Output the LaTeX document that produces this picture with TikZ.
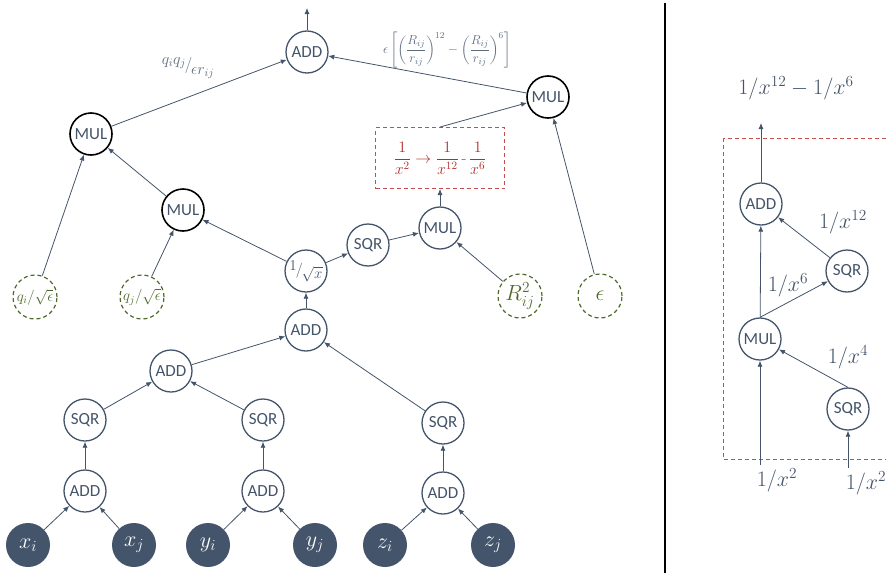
\RequirePackage{fix-cm}
\documentclass[tikz,border=0pt]{standalone}
\usepackage{amsmath}
\usepackage{fontspec}
\setsansfont{Carlito}
\usetikzlibrary{arrows.meta}
\definecolor{slate}{HTML}{44546A}
\definecolor{moss}{HTML}{4F6B2C}
\definecolor{brick}{HTML}{C0504D}
\definecolor{brickdark}{HTML}{B0302C}

\begin{document}
\begin{tikzpicture}[x=1pt,y=-1pt]
		\tikzstyle {op} = [circle, draw=slate, line width=1.3pt, minimum size=42pt, inner sep=0pt, text=slate, font=\sffamily\fontsize{17}{17}\selectfont]
		\tikzstyle {op bold} = [op, draw=black, line width=1.6pt]
		\tikzstyle {leaf} = [circle, draw=moss, dash pattern=on 4pt off 3pt, line width=1.2pt, minimum size=44pt, inner sep=0pt, text=moss]
		\tikzstyle {var} = [circle, fill=slate, minimum size=44pt, inner sep=0pt, text=white, font=\fontsize{22}{22}\selectfont]
		\tikzstyle {edge} = [-{Latex[length=6pt,width=5pt]}, slate, line width=0.8pt]
		\tikzstyle {note} = [text=slate, font=\fontsize{22}{22}\selectfont]
		\tikzstyle {rulebox} = [draw=brick, dash pattern=on 4pt off 3pt, line width=1pt, minimum width=129pt, minimum height=61pt, inner sep=0pt]

		\useasboundingbox (0,0) rectangle (886,573);
		\clip (0,0) rectangle (886,573);

		% left: the full graph
		\node[op] (top) at (307,52) {ADD};
		\coordinate (out) at (307,8);
		\node[op bold] (mulL) at (91,134) {MUL};
		\node[op bold] (mulM) at (183,210) {MUL};
		\node[op bold] (mulR) at (548,97) {MUL};
		\node[op, font=\fontsize{15}{15}\selectfont] (rsq) at (306,271) {\raisebox{4pt}{$1$}\kern-1pt/\kern-1pt\raisebox{-4pt}{$\sqrt{x}$}};
		\node[op] (sqrM) at (368,245) {SQR};
		\node[op] (mulC) at (440,228) {MUL};
		\node[rulebox] (redbox) at (440,158) {};

		\node[leaf, font=\fontsize{15}{15}\selectfont] (qi) at (35,297) {$q_i/\sqrt{\epsilon}$};
		\node[leaf, font=\fontsize{15}{15}\selectfont] (qj) at (142,297) {$q_j/\sqrt{\epsilon}$};
		\node[leaf, font=\fontsize{22}{22}\selectfont] (rij) at (520,296) {$R_{ij}^2$};
		\node[leaf, font=\fontsize{22}{22}\selectfont] (eps) at (600,296) {$\epsilon$};

		\node[op] (addC) at (306,330) {ADD};
		\node[op] (addL) at (171,371) {ADD};
		\node[op] (sqrX) at (85,420) {SQR};
		\node[op] (sqrY) at (263,420) {SQR};
		\node[op] (sqrZ) at (443,423) {SQR};
		\node[op] (addX) at (85,491) {ADD};
		\node[op] (addY) at (263,491) {ADD};
		\node[op] (addZ) at (443,493) {ADD};

		\node[var] (xi) at (28,545) {$x_i$};
		\node[var] (xj) at (134,545) {$x_j$};
		\node[var] (yi) at (208,545) {$y_i$};
		\node[var] (yj) at (315,545) {$y_j$};
		\node[var] (zi) at (385,545) {$z_i$};
		\node[var] (zj) at (493,545) {$z_j$};

		\node[text=slate!85, font=\fontsize{16}{16}\selectfont] (coul) at (188,68) {\raisebox{5pt}{$q_iq_j$}\kern-1pt/\kern-1pt\raisebox{-5pt}{$\epsilon r_{ij}$}};

		\draw[edge] (top) -- (out);
		\draw[edge] (mulL) -- (top);
		\draw[edge] (mulR) -- (top);
		\draw[edge] (qi) -- (mulL);
		\draw[edge] (mulM) -- (mulL);
		\draw[edge] (qj) -- (mulM);
		\draw[edge] (rsq) -- (mulM);
		\draw[edge] (rsq) -- (sqrM);
		\draw[edge] (sqrM) -- (mulC);
		\draw[edge] (rij) -- (mulC);
		\draw[edge] (mulC) -- (redbox.south -| mulC);
		\draw[edge] (redbox.north) -- (mulR);
		\draw[edge] (eps) -- (mulR);
		\draw[edge] (addC) -- (rsq);
		\draw[edge] (addL) -- (addC);
		\draw[edge] (sqrZ) -- (addC);
		\draw[edge] (sqrX) -- (addL);
		\draw[edge] (sqrY) -- (addL);
		\draw[edge] (addX) -- (sqrX);
		\draw[edge] (addY) -- (sqrY);
		\draw[edge] (addZ) -- (sqrZ);
		\draw[edge] (xi) -- (addX);
		\draw[edge] (xj) -- (addX);
		\draw[edge] (yi) -- (addY);
		\draw[edge] (yj) -- (addY);
		\draw[edge] (zi) -- (addZ);
		\draw[edge] (zj) -- (addZ);

		% right: the rewritten sub-graph
		\draw[black, line width=1.2pt] (665,3) -- (665,573);
		\draw[brick, dash pattern=on 4pt off 3pt, line width=1pt] (723,138) rectangle (900,459);

		\node[note] (res) at (796,88) {$1/x^{12}-1/x^6$};
		\coordinate (resin) at (761,123);
		\node[op] (addR) at (761,204) {ADD};
		\node[op] (sqrU) at (847,271) {SQR};
		\node[op] (mulP) at (760,339) {MUL};
		\node[op] (sqrD) at (848,409) {SQR};
		\node[note] (inA) at (777,480) {$1/x^2$};
		\node[note] (inB) at (866,483) {$1/x^2$};
		\node[note] (l12) at (843,222) {$1/x^{12}$};
		\node[note] (l6) at (788,285) {$1/x^{6}$};
		\node[note] (l4) at (848,357) {$1/x^{4}$};

		\draw[edge] (addR) -- (resin);
		\draw[edge] (mulP) -- (addR);
		\draw[edge] (sqrU) -- (addR);
		\draw[edge] (mulP.north) -- (sqrU);
		\draw[edge] (sqrD.north) -- (mulP);
		\draw[edge] (inA.north -| mulP) -- (mulP);
		\draw[edge] (inB.north -| sqrD) -- (sqrD);

		\node[text=brickdark, font=\fontsize{16}{16}\selectfont] (rwtext) at (redbox.center) {$\displaystyle\frac{1}{x^2}\rightarrow\frac{1}{x^{12}}$\,-\,$\displaystyle\frac{1}{x^6}$};
		\node[text=slate!85, font=\fontsize{13}{13}\selectfont] (lj) at (447,50) {$\displaystyle\epsilon\left[\left(\frac{R_{ij}}{r_{ij}}\right)^{12}-\left(\frac{R_{ij}}{r_{ij}}\right)^{6}\right]$};
	\end{tikzpicture}
\end{document}
